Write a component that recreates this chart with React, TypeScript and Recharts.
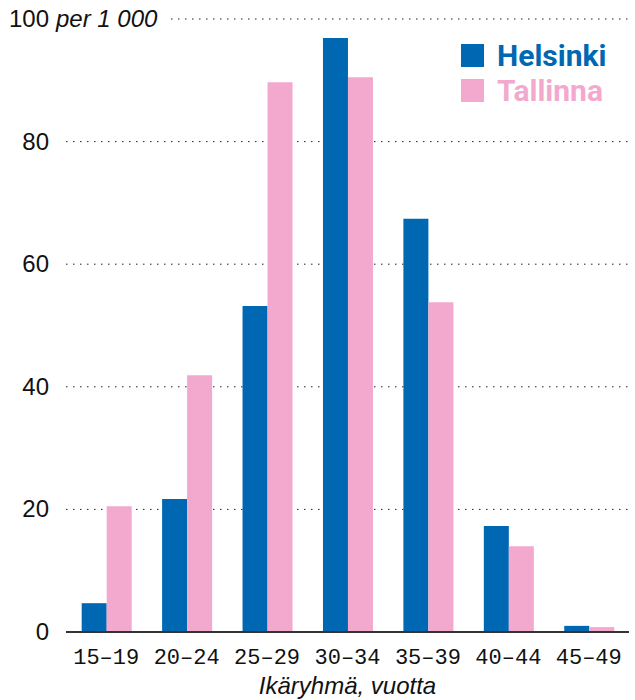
import { BarChart, Bar, XAxis, YAxis, CartesianGrid } from 'recharts';

const ageGroups = ['15–19', '20–24', '25–29', '30–34', '35–39', '40–44', '45–49'];
const helsinki = [4.7, 21.7, 53.2, 96.9, 67.4, 17.3, 1.0];
const tallinna = [20.5, 41.9, 89.7, 90.5, 53.8, 14.0, 0.8];
const yTicks = [0, 20, 40, 60, 80, 100];

const BLUE = '#0067b3';
const PINK = '#f3a9ce';
const SANS = '"Liberation Sans", Arial, sans-serif';
const MONO = '"Liberation Mono", monospace';

const data = ageGroups.map((g, i) => ({ group: g, helsinki: helsinki[i], tallinna: tallinna[i] }));

const YTick = ({ x, y, payload }: any) => {
  if (payload.value === 100) {
    return (
      <g>
        <rect x={x + 2} y={y - 14} width={118} height={28} fill="#fff" />
        <text x={x} y={y} dy={8} textAnchor="end" fontFamily={SANS} fontSize={24} fill="#111">
          100
        </text>
        <text x={x + 7} y={y} dy={8} textAnchor="start" fontFamily={SANS} fontStyle="italic" fontSize={24} fill="#111">
          per 1 000
        </text>
      </g>
    );
  }
  return (
    <text x={x} y={y} dy={8} textAnchor="end" fontFamily={SANS} fontSize={24} fill="#111">
      {payload.value}
    </text>
  );
};

const series = [
  { name: 'Helsinki', color: BLUE },
  { name: 'Tallinna', color: PINK }
];

export default function App() {
  return (
    <div style={{ position: 'absolute', left: 0, top: 0, width: 635, height: 700, background: '#fff' }}>
      <BarChart
        width={635}
        height={700}
        data={data}
        margin={{ top: 19, right: 6, left: 0, bottom: 0 }}
        barCategoryGap="19.5%"
        barGap={0}
      >
        <CartesianGrid vertical={false} stroke="#222" strokeDasharray="1.5 5.5" />
        <XAxis
          dataKey="group"
          height={68}
          interval={0}
          tickLine={false}
          axisLine={{ stroke: '#333', strokeWidth: 2 }}
          tick={{ fontFamily: MONO, fontSize: 22, fill: '#111' }}
          tickMargin={10}
          label={{
            value: 'Ikäryhmä, vuotta',
            position: 'insideBottom',
            offset: 6,
            style: { fontFamily: SANS, fontStyle: 'italic', fontSize: 24, fill: '#111' }
          }}
        />
        <YAxis
          width={66}
          domain={[0, 100]}
          ticks={yTicks}
          tickLine={false}
          axisLine={false}
          tickMargin={11}
          tick={<YTick />}
        />
        <Bar dataKey="helsinki" name="Helsinki" fill={BLUE} isAnimationActive={false} />
        <Bar dataKey="tallinna" name="Tallinna" fill={PINK} isAnimationActive={false} />
      </BarChart>

      {/* Legend */}
      <div
        style={{
          position: 'absolute',
          left: 461,
          top: 38,
          fontFamily: 'Roboto, sans-serif',
          fontWeight: 700,
          fontSize: 30
        }}
      >
        {series.map(s => (
          <div key={s.name} style={{ display: 'flex', alignItems: 'center', height: 35, color: s.color }}>
            <div style={{ width: 23, height: 23, background: s.color, marginRight: 13 }} />
            <span>{s.name}</span>
          </div>
        ))}
      </div>
    </div>
  );
}
